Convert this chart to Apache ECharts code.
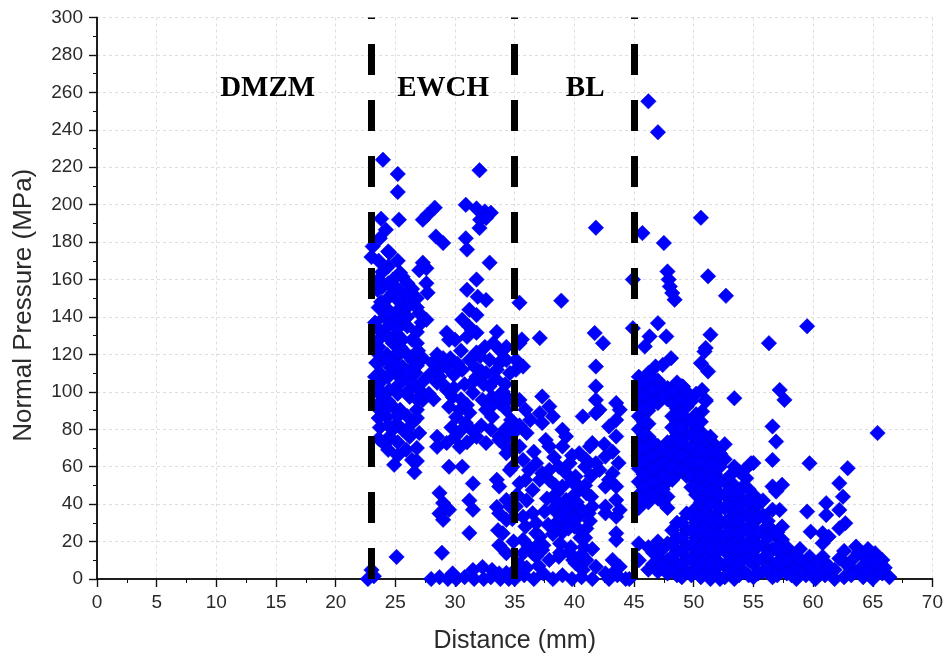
<!DOCTYPE html>
<html><head><meta charset="utf-8">
<script src="https://cdn.jsdelivr.net/npm/echarts@6/dist/echarts.min.js"></script>
<style>html,body{margin:0;padding:0;background:#fff}#c{width:946px;height:659px}</style>
</head><body><div id="c"></div>
<script>
const boundaryX = [23, 35, 45];
const regionNames = ['DMZM', 'EWCH', 'BL'];
const regionX = [14.3, 29.0, 40.9];
const regionY = [262, 262, 262];

const ewchPoints = [
[23.96,224],[25.2,216.4],[25.2,206.8],[32.05,218.4],[23.8,192.5],[25.3,192],[27.7,194.6],[28.3,198.4],[27.3,192],[30.9,199.9],[31.8,198],[32.5,196.4],[33.0,195.7],[32.1,192],[32.6,192.9],[32.05,187.5],[24.2,186.6],[23.1,177.7],[24.4,175],[23.7,182],[28.4,183],[29.0,179.5],[30.9,182],[31.0,176],[32.9,169],[27.3,169],[27.0,165],[27.6,166],[23.9,164],[25.4,163.6],[25.6,161.5],[27.6,158],[27.7,153],[31.8,160],[31.0,154.5],[32.6,149],[31.9,150.8],[23.5,154.5],[24.5,150.8],[25.9,149],[25.4,143.8],[26,140],[27,142],[27.2,137],[23.4,134.7],[23.9,131.6],[24.8,126],[25.6,127.8],[26.4,127.8],[29.3,131.6],[29.5,127.8],[31.2,134.7],[31.8,131.6],[31,129.4],[33.5,132],[24.5,174.3],[23,172],
[23.9,156],[24.8,153],[26.2,146.5],[25.1,142.8],[25.6,138.5],[27.6,138.5],[31.2,143.8],[30.6,138.5],[31.4,133],[31.8,141],[23.3,137],[25.4,124],[26.8,132],[30,127.8],[23.9,117],[25.1,118.7],[25.6,113.4],[26.4,117],[27.3,118],[28.1,115.5],[28.7,111.8],[29.3,113.4],[23.4,115.5],[23.7,110],[31.2,117],[31.8,121],[30.6,111.8],[32.9,117],[33.7,115.5],[34.3,117],[33.5,111.8],[32.6,110],[23.7,104.8],[24.5,101],[23.9,95.7],[24.8,92],[24.3,86.6],[25.4,90.4],[25.9,108],[26.4,104.8],[27,101],[26.2,97.3],[27.3,95.7],[26.8,90.4],[28.7,108],[28.5,104.8],[29.3,101],[29.8,97.3],[29.5,92],[30.4,90.4],[30.1,86.6],[30.9,83.4],[31.2,88.8],[31.5,99.5],[32.3,95.7],[33.1,97.3],[33.7,94],[32.6,90.4],[33.1,86.6],[23.7,81],[24.5,76],[25.6,79.7],[26.2,76],[27,78],[28.5,76],[29.3,72.7],[30.4,70.6],[31.8,76],[32.6,72.7],[33.7,76],[34.3,70.6],
[24.2,145],[24.9,137],[23.6,124],[24.3,120],[25,110],[24.6,113],[25.3,104],[26.7,110],[27.4,106],[26,100],[24,99],[26.5,84],[25.1,83],[24,90],[23.4,92],[23.5,100],[23.3,108],[24.1,140],[23.8,148],[24.8,160],[26.4,155],[25.1,131],[26.9,122],[28.5,120],[29.6,118],[29.9,109],[30.8,104],[31.8,108],[32.4,104],[34.2,104],[34.5,96],[34.7,85],[34.2,80],[32.2,82],[31.5,79],[29.7,81],[27.8,99],[30.5,122],[32.5,124],[33.8,122],[34.6,110],
[24.9,61],[25.9,69],[26.4,63.6],[26.6,57],[24.1,72],[24.8,80],[28.5,70.6],[29.5,60],[30.6,60],[31.5,51],[28.7,46],[29,40.6],[28.7,35],[29,31.6],[29.5,37],[31.2,42],[31.5,37],[31.2,24.6],[33.5,38.5],[33.6,26],[33.5,53],[25.1,11.8],[28.9,14],[23,4.8],[22.7,0],[23.2,1.5],[31.5,4.8],[32.3,6.4],[33.1,4.8],[34.3,3.2],[28,0],[28.7,1],[29.4,0],[30.1,0],[30.8,1],[31.6,0],[32.4,0],[33,1],[33.8,0],[34.5,0],[29.8,3]
];

const ewchFill = [
[23.6,170],[23.6,160],[23.6,145],[23.6,128],[23.6,120],[23.6,86],[23.6,75],
[24.4,167],[24.4,158],[24.4,142],[24.4,135],[24.4,129],[24.4,117],[24.4,108],[24.4,95],[24.4,82],[24.4,69],
[25.2,170],[25.2,155],[25.2,149],[25.2,134],[25.2,121],[25.2,114],[25.2,99],[25.2,87],[25.2,73],[25.2,66],
[26.0,158],[26.0,152],[26.0,135],[26.0,120],[26.0,111],[26.0,87],[26.0,80],
[26.8,150],[26.8,145],[26.8,126],[26.8,114],[26.8,96],[26.8,86],[26.8,70],[26.8,63],
[28.2,96],[29,104],[29.9,102],[30.5,96],[31,93],[31.7,113],[32.2,111],[32.9,103],[33.4,107],[34,100],[33,92],[30.2,115],[29,118],[28,110],[32.1,119],[33.2,126],[34.3,124],[31.3,104],[30,76],[31,73],[33,80],[34.5,76],[30.6,80]
];

const blPoints = [
[35.4,147.6],[38.9,148.7],[41.8,187.7],[41.7,131.4],[42.4,126],[41.8,113.5],[35.4,126],[35.6,128],[37.1,128.7],[35.1,117],[34,117],[35.1,111.8],[35.7,113.5],[33.7,97.5],[34.3,90.4],[35.4,95.7],[35.9,90.4],[37.3,97.5],[37.9,92.2],[37.1,88.6],[37.3,83.3],[38.2,86.8],[39,79.7],[39.3,76.2],[41.8,102.9],[41.8,95.7],[42.1,90.4],[40.7,86.8],[43.5,94],[43.8,90.4],[43.5,76.2],[41.5,72.6],[40.4,67.2],[42.6,65.4],[40.9,60],[42.1,58.3],[43.2,56.5],[33.7,74.3],[34.3,67.2],[34.8,60],[35.7,63.6],[36.2,58.3],[36.8,61.8],[37.3,56.5],[37.9,58.3],[38.7,60],[39.3,56.5],[33.7,49.4],[34.3,42.2],[35.1,38.7],[35.9,52.9],[36.5,47.6],[37.9,52.9],[38.5,45.8],[39,49.4],[39.3,42.2],[39.9,38.7],[40.4,49.4],[41,45.8],[41.5,38.7],[42.6,49.4],[43.5,42.2],[41.2,35.1],[42.6,35.1],[43.5,33.3],[38.5,30],[39,25],[39.5,35],[40,28],[40.5,22],[40,45],[38.8,19],[39.7,17],[40.3,33],[41,27],[38.3,38],[39.3,31],[36.5,35.1],[35.9,28],[36.8,24.4],[35.7,20.9],[36.5,13.8],[33.7,35.1],[34,24.4],[34.3,13.8],[33.7,3],[38.7,11.9],[40.1,8.4],[41,10.2],[41.8,6.6],[41.5,0],[43.2,3],[42.9,0],[44.3,0],[42.6,38.7],[43.5,24.4],[43.5,20.9],
[37.9,70.8],[37.6,74.3],[39,70.8],[41.8,88.6],[43.5,85],[42.9,81.5],[41.3,70.8],[41,63.6],[41.8,61.8],[42.9,53],[43.5,49.4],[35.4,70.8],[34.6,58.3],[35.4,51.2],[37.1,53],[39.6,61.8],[40.1,54.7],[43.8,36.9],[34.6,38.7],[34.3,31.6],[35.7,33.3],[36.8,29.8],[37.1,22.6],[36.2,17.3],[35.7,13.8],[36.8,12],[37.3,15.5],[37.9,10.2],[33.7,18],[39.9,10.2],[40.7,4.8],[43.2,10.2],[43.8,6.6],[42.6,3],
[38.2,24],[40.8,17],[39.6,14],[41.3,31],[38.6,35],[40.6,37],
[35,0],[35.8,2],[36.6,0],[37.4,3],[38.2,0],[39,2],[39.8,0],[40.6,1],[43.6,2],[44.6,0],[36,6],[37,7],[34.9,4]
];

const blFill = [
[38.6,41],[39.2,37],[39.8,32],[40.3,27],[40.9,22],[41.4,44],[40.2,41],[38.9,33],[39.5,27],[38.2,28],[38.8,14],[40.6,13],[41.5,16],[38.4,50],[39.8,52],[37.7,43],[37.5,36],[37.8,29],[37.4,18],[40.9,50],[41.4,55],[36,42],[35.2,45],[34.8,32],[34.9,20],[35.4,8],[36.9,18],
[36.3,85],[36,78],[35.4,82],[34.9,78],[36.6,68],[38.3,65],[39.8,66],[42.5,72],[43.2,68],[43.7,62]
];

const postPoints = [
[46.2,255.2],[47,238.7],[50.6,193],[45.7,184.8],[47.5,179.5],[44.9,160],[47.8,164.3],[47.9,160],[48,156.3],[48.2,152.8],[48.4,149.2],[51.2,161.7],[52.7,151.3],[59.5,135],[56.3,126],[44.9,134],[47,136.7],[46.3,129.6],[47.7,129.6],[45.9,124.2],[51.4,130.5],[51,123.4],[48.1,118],[46.8,113.5],[47.4,114.4],[50.6,115.3],[51.2,110.9],[50.9,121.5],[49.1,102.8],[50.7,101],[51,95.7],[50.7,89.5],[53.4,96.6],[57.2,101],[57.6,95.7],[50.7,78],[51.6,72.6],[56.6,81.5],[56.9,73.4],[56.6,63.6],[65.4,78],[54.8,61.8],[53.8,57.4],[54.4,53.8],[59.7,61.8],[62.9,59.2],[56.6,49.4],[57.4,50.3],[56.9,46.7],[57.2,36.9],[57.4,28],[57.2,20.9],[59.5,36],[61.1,40.5],[61.1,34.2],[59.8,25.3],[62.2,51.2],[62.5,44],[62.2,36.9],[62.7,29.8],[62.2,27.1],[60.8,24.4],[60.8,19.1],[61.3,22.6],[59.7,11.9],[60.8,11.9],[63.6,17.3],[64.1,13.8],[65.2,13.8],[65.8,10.2],[62.7,8.4],[64.1,6.6],[65.5,4.8],[48.8,67.2],[49.3,63.6],[49.9,60]
];

const postDense = [
[45.4,108],[45.4,101],[45.4,94],[45.4,87],[45.4,80],[45.4,73],[45.4,66],[45.4,59],[45.4,52],[45.4,45],[45.4,38],[45.4,19],[45.4,10],
[46.2,110],[46.2,104],[46.2,97],[46.2,90],[46.2,83],[46.2,76],[46.2,69],[46.2,62],[46.2,55],[46.2,48],[46.2,41],[46.2,17],[46.2,5],
[47.0,106],[47.0,99],[47.0,94],[47.0,71],[47.0,64],[47.0,57],[47.0,50],[47.0,43],[47.0,20],[47.0,12],[47.0,4],
[47.8,102],[47.8,96],[47.8,73],[47.8,66],[47.8,59],[47.8,52],[47.8,44],[47.8,38],[47.8,19],[47.8,10],[47.8,3],
[48.6,105],[48.6,98],[48.6,91],[48.6,84],[48.6,78],[48.6,70],[48.6,63],[48.6,56],[48.6,30],[48.6,22],[48.6,15],[48.6,8],[48.6,2],
[49.4,100],[49.4,92],[49.4,85],[49.4,77],[49.4,69],[49.4,62],[49.4,55],[49.4,35],[49.4,26],[49.4,18],[49.4,11],[49.4,4],
[50.2,99],[50.2,88],[50.2,80],[50.2,73],[50.2,66],[50.2,58],[50.2,52],[50.2,45],[50.2,38],[50.2,30],[50.2,22],[50.2,14],[50.2,6],
[51.0,95],[51.0,72],[51.0,65],[51.0,58],[51.0,51],[51.0,44],[51.0,36],[51.0,29],[51.0,20],[51.0,12],[51.0,4],
[51.8,71],[51.8,63],[51.8,56],[51.8,48],[51.8,41],[51.8,34],[51.8,27],[51.8,19],[51.8,11],[51.8,3],
[52.6,72],[52.6,64],[52.6,52],[52.6,45],[52.6,38],[52.6,30],[52.6,22],[52.6,15],[52.6,7],[52.6,1],
[53.4,60],[53.4,50],[53.4,43],[53.4,36],[53.4,28],[53.4,21],[53.4,13],[53.4,6],[53.4,0],
[54.2,58],[54.2,50],[54.2,42],[54.2,35],[54.2,27],[54.2,19],[54.2,12],[54.2,4],
[55.0,62],[55.0,45],[55.0,38],[55.0,30],[55.0,22],[55.0,15],[55.0,8],[55.0,1],
[55.8,42],[55.8,34],[55.8,26],[55.8,18],[55.8,11],[55.8,4],
[56.6,37],[56.6,26],[56.6,16],[56.6,8],[56.6,1],
[57.4,21],[57.4,13],[57.4,6],
[58.2,14],[58.2,8],[58.2,2]
];

const postStagger = [
[45.8,105],[45.8,98],[45.8,91],[45.8,84],[45.8,77],[45.8,70],[45.8,63],[45.8,56],[45.8,49],[45.8,42],
[46.6,107],[46.6,101],[46.6,94],[46.6,73],[46.6,66],[46.6,59],[46.6,52],[46.6,45],[46.6,14],[46.6,8],
[47.4,103],[47.4,97],[47.4,69],[47.4,62],[47.4,55],[47.4,48],[47.4,41],[47.4,16],[47.4,7],
[48.2,100],[48.2,94],[48.2,87],[48.2,81],[48.2,74],[48.2,67],[48.2,60],[48.2,53],[48.2,26],[48.2,19],[48.2,12],[48.2,5],
[49.0,103],[49.0,96],[49.0,88],[49.0,81],[49.0,73],[49.0,66],[49.0,58],[49.0,30],[49.0,22],[49.0,15],[49.0,8],[49.0,1],
[49.8,95],[49.8,84],[49.8,77],[49.8,70],[49.8,62],[49.8,55],[49.8,49],[49.8,34],[49.8,26],[49.8,18],[49.8,10],[49.8,2],
[50.6,84],[50.6,76],[50.6,69],[50.6,62],[50.6,55],[50.6,48],[50.6,41],[50.6,33],[50.6,25],[50.6,17],[50.6,9],[50.6,1],
[51.4,76],[51.4,68],[51.4,61],[51.4,54],[51.4,47],[51.4,40],[51.4,32],[51.4,24],[51.4,16],[51.4,8],[51.4,0],
[52.2,67],[52.2,60],[52.2,52],[52.2,45],[52.2,38],[52.2,31],[52.2,24],[52.2,16],[52.2,8],[52.2,0],
[53.0,55],[53.0,47],[53.0,40],[53.0,32],[53.0,25],[53.0,17],[53.0,10],[53.0,3],
[53.8,47],[53.8,40],[53.8,32],[53.8,24],[53.8,16],[53.8,9],[53.8,2],
[54.6,48],[54.6,41],[54.6,33],[54.6,25],[54.6,17],[54.6,10],[54.6,2],
[55.4,40],[55.4,33],[55.4,25],[55.4,18],[55.4,10],[55.4,3],
[56.2,31],[56.2,22],[56.2,13],[56.2,5],
[57.0,25],[57.0,17],[57.0,9],[57.0,2],
[57.8,17],[57.8,10],[57.8,3]
];

const tailBaseline = [
[58.6,12],[58.6,5],[58.6,0],[59.4,8],[59.4,2],[60.2,6],[60.2,0],[61,9],[61,2],[61.8,5],[61.8,0],[62.6,15],[62.6,1],[63.4,11],[63.4,4],[64.2,1],[65,8],[65,0],[65.8,3],[66.4,1],[64.6,10],[63,7],
[63.8,14],[64.6,16],[65.4,9],[66,6],[63.2,2],[64.4,4],[62.2,11],[61.4,6],[60.6,3],[59.8,5],[59,10],[60.4,9],[58.9,16]
];

const allPoints = [].concat(ewchPoints, ewchFill, blPoints, blFill, postPoints, postDense, postStagger, tailBaseline);
const labelData = regionNames.map((n, i) => [regionX[i], regionY[i], n]);

const axisColor = '#111';
const labelColor = '#2a2a2a';
const gridLine = { show: true, lineStyle: { color: '#dedede', width: 1, type: [3, 3] } };

const chart = echarts.init(document.getElementById('c'), null, { renderer: 'canvas' });
chart.setOption({
  animation: false,
  backgroundColor: '#fff',
  grid: { left: 97, right: 12, top: 17.5, bottom: 80 },
  xAxis: [
    {
      type: 'value', min: 0, max: 70, interval: 5, position: 'bottom', offset: 5,
      name: 'Distance (mm)', nameLocation: 'middle', nameGap: 45,
      nameTextStyle: { fontFamily: 'Liberation Sans, Arial', fontSize: 25, color: labelColor },
      axisLine: { show: true, lineStyle: { color: axisColor, width: 1.5 } },
      axisTick: { show: true, length: 8, lineStyle: { color: axisColor, width: 1.2 } },
      minorTick: { show: true, splitNumber: 2, length: 4, lineStyle: { color: axisColor, width: 1 } },
      axisLabel: { fontFamily: 'Liberation Sans, Arial', fontSize: 19, color: labelColor, margin: 9 },
      splitLine: gridLine
    },
    {
      type: 'value', min: 0, max: 70, interval: 5, position: 'top',
      axisLine: { show: true, lineStyle: { color: axisColor, width: 1.5 } },
      axisTick: { show: true, inside: true, length: 8, lineStyle: { color: axisColor, width: 1.2 } },
      minorTick: { show: true, splitNumber: 2, length: 4, lineStyle: { color: axisColor, width: 1 } },
      axisLabel: { show: false },
      splitLine: { show: false }
    }
  ],
  yAxis: [
    {
      type: 'value', min: 0, max: 300, interval: 20, position: 'left',
      name: 'Normal Pressure (MPa)', nameLocation: 'middle', nameGap: 60, nameRotate: 90,
      nameTextStyle: { fontFamily: 'Liberation Sans, Arial', fontSize: 26, color: labelColor, padding: [0, 14, 0, 0] },
      axisLine: { show: true, lineStyle: { color: axisColor, width: 1.5 } },
      axisTick: { show: true, length: 8, lineStyle: { color: axisColor, width: 1.2 } },
      minorTick: { show: true, splitNumber: 2, length: 4, lineStyle: { color: axisColor, width: 1 } },
      axisLabel: { fontFamily: 'Liberation Sans, Arial', fontSize: 19, color: labelColor, margin: 14 },
      splitLine: gridLine
    },
    {
      type: 'value', min: 0, max: 300, interval: 20, position: 'right',
      axisLine: { show: true, lineStyle: { color: axisColor, width: 1.5 } },
      axisTick: { show: true, inside: true, length: 8, lineStyle: { color: axisColor, width: 1.2 } },
      minorTick: { show: true, splitNumber: 2, length: 4, lineStyle: { color: axisColor, width: 1 } },
      axisLabel: { show: false },
      splitLine: { show: false }
    }
  ],
  series: [
    {
      type: 'scatter', xAxisIndex: 0, yAxisIndex: 0, z: 2,
      symbol: 'diamond', symbolSize: 15.5,
      itemStyle: { color: '#0000ff', borderColor: '#0000c8', borderWidth: 0.5, opacity: 1 },
      data: allPoints
    },
    {
      type: 'scatter', xAxisIndex: 0, yAxisIndex: 0, z: 4,
      symbol: 'circle', symbolSize: 1,
      itemStyle: { color: 'rgba(0,0,0,0)' },
      label: {
        show: true, position: 'inside', formatter: p => p.data[2], opacity: 1,
        textBorderWidth: 0, textShadowBlur: 0,
        fontFamily: 'Liberation Serif, Times New Roman, serif', fontWeight: 'bold', fontSize: 29, color: '#000000'
      },
      data: labelData
    },
    {
      type: 'scatter', xAxisIndex: 0, yAxisIndex: 0, z: 5, data: [],
      markLine: {
        silent: true, symbol: 'none', animation: false,
        label: { show: false },
        lineStyle: { color: '#000', width: 7, type: [31, 25], cap: 'butt' },
        data: boundaryX.map(v => ({ xAxis: v }))
      }
    }
  ]
});
</script>
</body></html>
